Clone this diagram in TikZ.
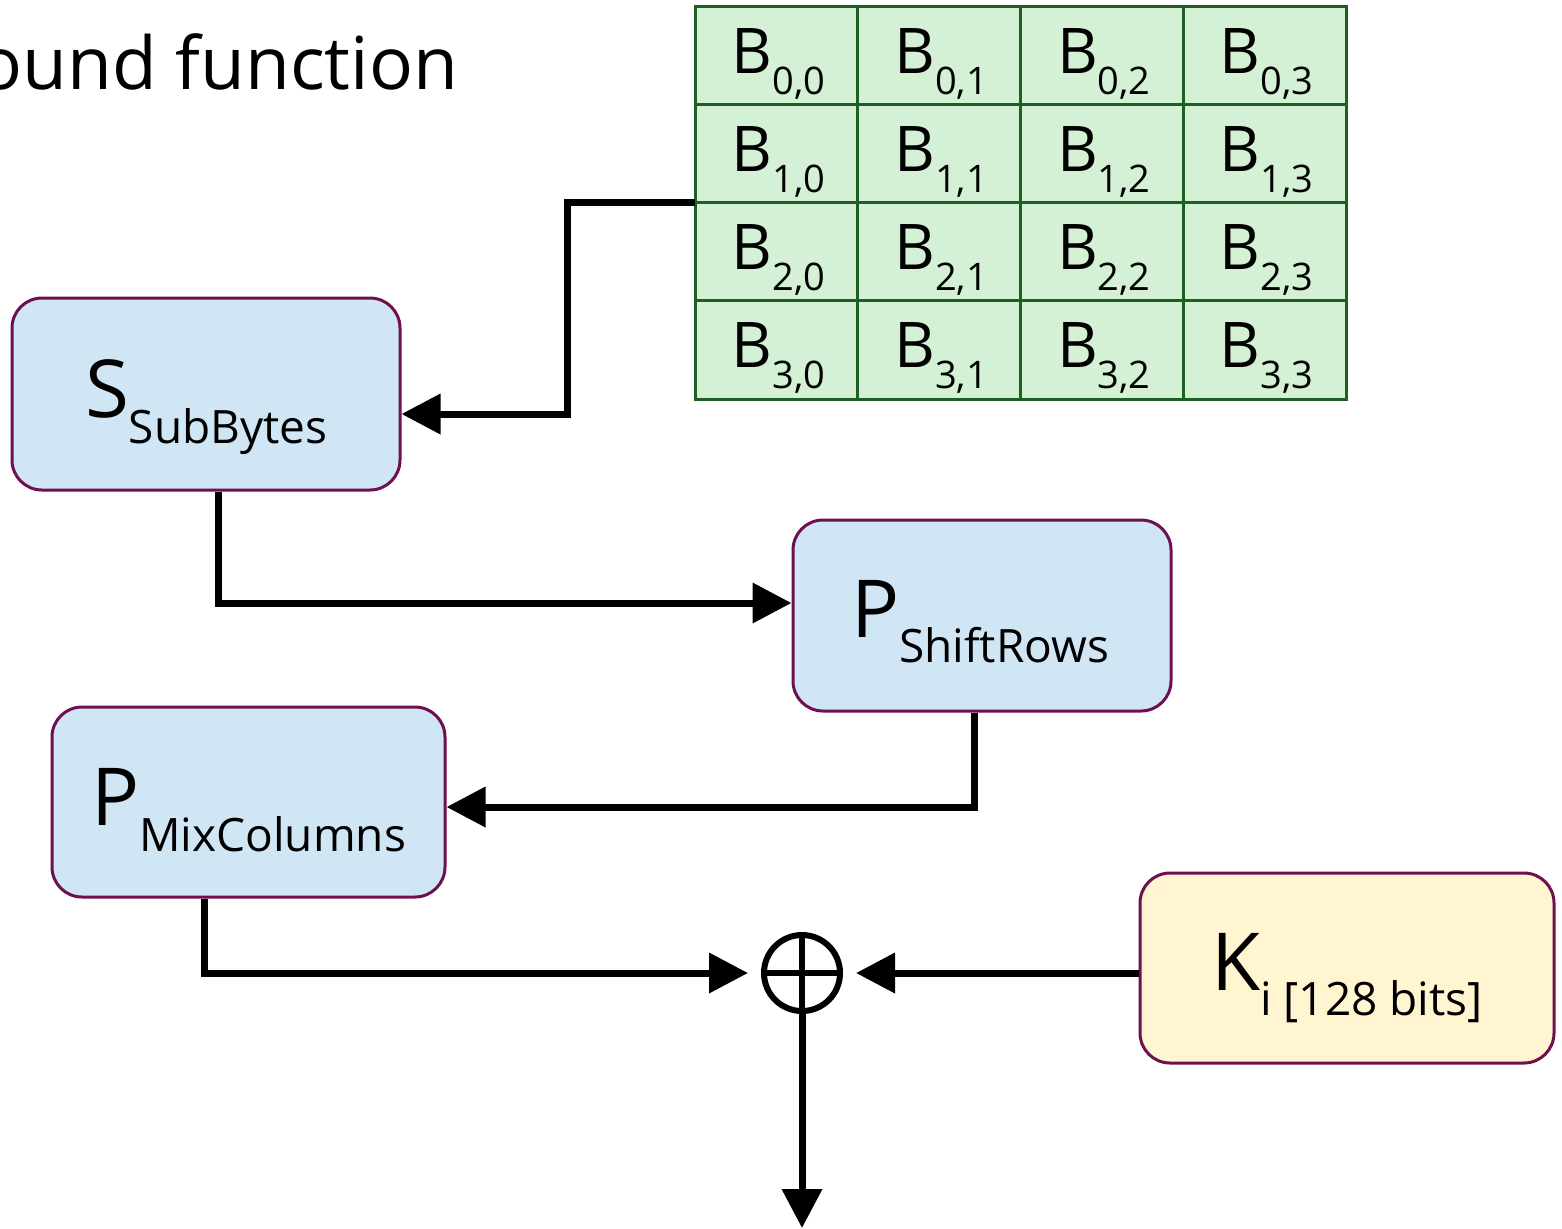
\documentclass[tikz,border=0pt]{standalone}
\usepackage{fontspec}
\setmainfont{Open Sans}
\usetikzlibrary{arrows.meta}

\definecolor{boxblue}{HTML}{D0E6F4}
\definecolor{boxedge}{HTML}{6E1050}
\definecolor{cellgreen}{HTML}{D5F1D5}
\definecolor{celledge}{HTML}{1F5F23}
\definecolor{keyyellow}{HTML}{FFF5D0}

\newcommand\titlesz{\fontsize{36.5}{42}\selectfont}
\newcommand\mainsz{\fontsize{40}{44}\selectfont}
\newcommand\boxsubsz{\fontsize{23}{26}\selectfont}
\newcommand\cellsz{\fontsize{31.5}{36}\selectfont}
\newcommand\cellsubsz{\fontsize{19}{22}\selectfont}

\begin{document}
\begin{tikzpicture}[x=0.5pt,y=-0.5pt,
  stage/.style={draw=boxedge, line width=1.5pt, rounded corners=15pt,
    fill=boxblue, inner sep=0pt},
  keybox/.style={stage, fill=keyyellow},
  cell/.style={draw=celledge, line width=1.5pt, fill=cellgreen,
    minimum width=81.375pt, minimum height=49.125pt, inner sep=0pt, outer sep=0pt},
  txt/.style={inner sep=0pt, outer sep=0pt},
  flow/.style={line width=3.5pt, -{Triangle[length=19.5pt,width=19.5pt]}},
  xorop/.style={circle, draw, line width=3pt, minimum size=38pt,
    inner sep=0pt, outer sep=0pt}]
\useasboundingbox (0,0) rectangle (1562,1228);

% heading, partly cut off at the left edge
\node[txt, anchor=base east, font=\titlesz] (title) at (458,89) {Round function};

% 4x4 state matrix
\foreach \r in {0,...,3}{
  \foreach \c in {0,...,3}{
    \node[cell] (c\r\c) at ({695+162.75*(\c+0.5)},{6+98.25*(\r+0.5)}) {};
    \node[txt, anchor=base] (t\r\c) at ({697+162.75*(\c+0.5)},{73+98.25*\r})
      {\cellsz B\raisebox{-10.5pt}{\cellsubsz \r,\c}};
  }
}

% round stages
\node[stage, minimum width=194pt, minimum height=96pt] (sub) at (206,394) {};
\node[txt, anchor=base west] (subtxt) at (85,417)
  {\mainsz S\raisebox{-13pt}{\boxsubsz SubBytes}};

\node[stage, minimum width=189pt, minimum height=95.5pt] (shift) at (982,615.5) {};
\node[txt, anchor=base west] (shifttxt) at (851,637)
  {\mainsz P\raisebox{-12.5pt}{\boxsubsz ShiftRows}};

\node[stage, minimum width=196.5pt, minimum height=95pt] (mix) at (248.5,802) {};
\node[txt, anchor=base west] (mixtxt) at (91,825)
  {\mainsz P\raisebox{-13pt}{\boxsubsz MixColumns}};

\node[keybox, minimum width=207pt, minimum height=95pt] (key) at (1347,968) {};
\node[txt, anchor=base west] (keytxt) at (1211,990)
  {\mainsz K\raisebox{-12.5pt}{\boxsubsz i [128 bits]}};

% key addition
\node[xorop] (xor) at (802,973) {};
\draw[line width=3pt] (xor.north) -- (xor.south);
\draw[line width=3pt] (xor.west) -- (xor.east);

% bend points of the connectors
\coordinate (j1) at (567,414);
\coordinate (j2) at (218,603);
\coordinate (j3) at (974,807);
\coordinate (j4) at (204,973);
\coordinate (out) at (802,1228);

\draw[flow] (c10.south west) -| (j1) -- (sub.east |- j1);
\draw[flow] (sub.south -| j2) |- (shift.west |- j2);
\draw[flow] (shift.south -| j3) |- (mix.east |- j3);
\draw[flow, shorten >=8pt] (mix.south -| j4) |- (xor.west);
\draw[flow, shorten >=8pt] (key.west |- xor.east) -- (xor.east);
\draw[flow] (xor.south) -- (out);
\end{tikzpicture}
\end{document}
